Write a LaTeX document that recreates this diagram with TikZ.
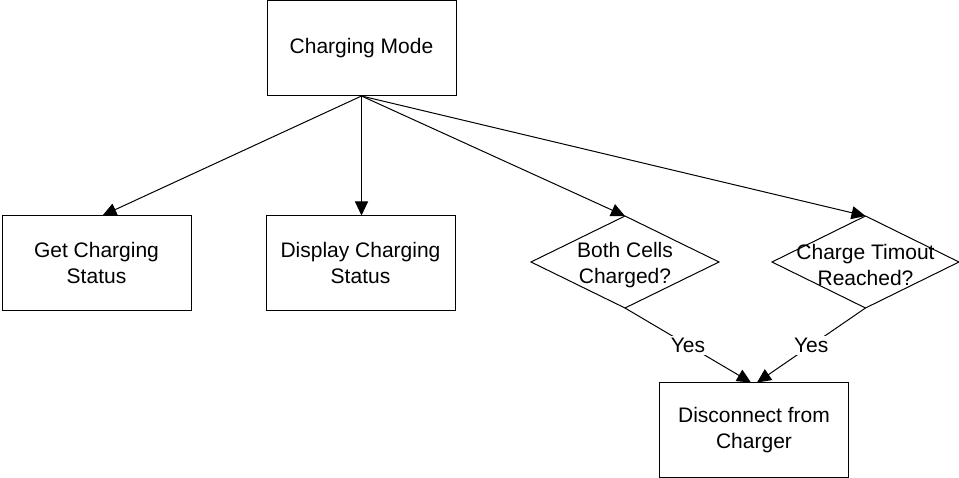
\documentclass[tikz,border=0pt]{standalone}
\usepackage{fontspec}
\setmainfont{Liberation Sans}
\usetikzlibrary{shapes.geometric,arrows.meta}
\begin{document}
\begin{tikzpicture}[x=1pt,y=-1pt,
  every node/.style={font=\fontsize{21}{26}\selectfont, text=black},
  procbox/.style={draw=black, line width=1pt, minimum width=189pt, minimum height=95pt, align=center, inner sep=0pt, outer sep=0pt},
  decbox/.style={draw=black, line width=1pt, diamond, minimum width=188pt, minimum height=92pt, inner sep=0pt, outer sep=0pt},
  dectext/.style={align=center, inner sep=0pt},
  conn/.style={draw=black, line width=1pt, -{Triangle[length=14pt,width=13pt]}},
  yeslabel/.style={fill=white, inner sep=2pt}
]
\useasboundingbox (0,0) rectangle (959,478);
\node[procbox] (mode) at (361.5,48.5) {Charging Mode};
\node[procbox] (get) at (96.5,263) {Get Charging\\Status};
\node[procbox] (disp) at (360.5,263) {Display Charging\\Status};
\node[decbox] (d1) at (625,262) {};
\node[dectext] (t1) at ([yshift=-3pt]d1.center) {Both Cells\\Charged?};
\node[decbox, minimum width=187pt] (d2) at (865.5,262) {};
\node[dectext] (t2) at ([yshift=-3pt]d2.center) {Charge Timout\\Reached?};
\node[procbox] (disc) at (754,430) {Disconnect from\\Charger};

\draw[conn] (mode.south) -- ([xshift=6pt]get.north);
\draw[conn] (mode.south) -- (mode.south |- disp.north);
\draw[conn] (mode.south) -- (d1.north);
\draw[conn] (mode.south) -- (d2.north);
\draw[conn] (d1.south) -- node[yeslabel] (y1) {Yes} ([xshift=-3pt]disc.north);
\draw[conn] (d2.south) -- node[yeslabel] (y2) {Yes} ([xshift=3pt]disc.north);
\end{tikzpicture}
\end{document}
